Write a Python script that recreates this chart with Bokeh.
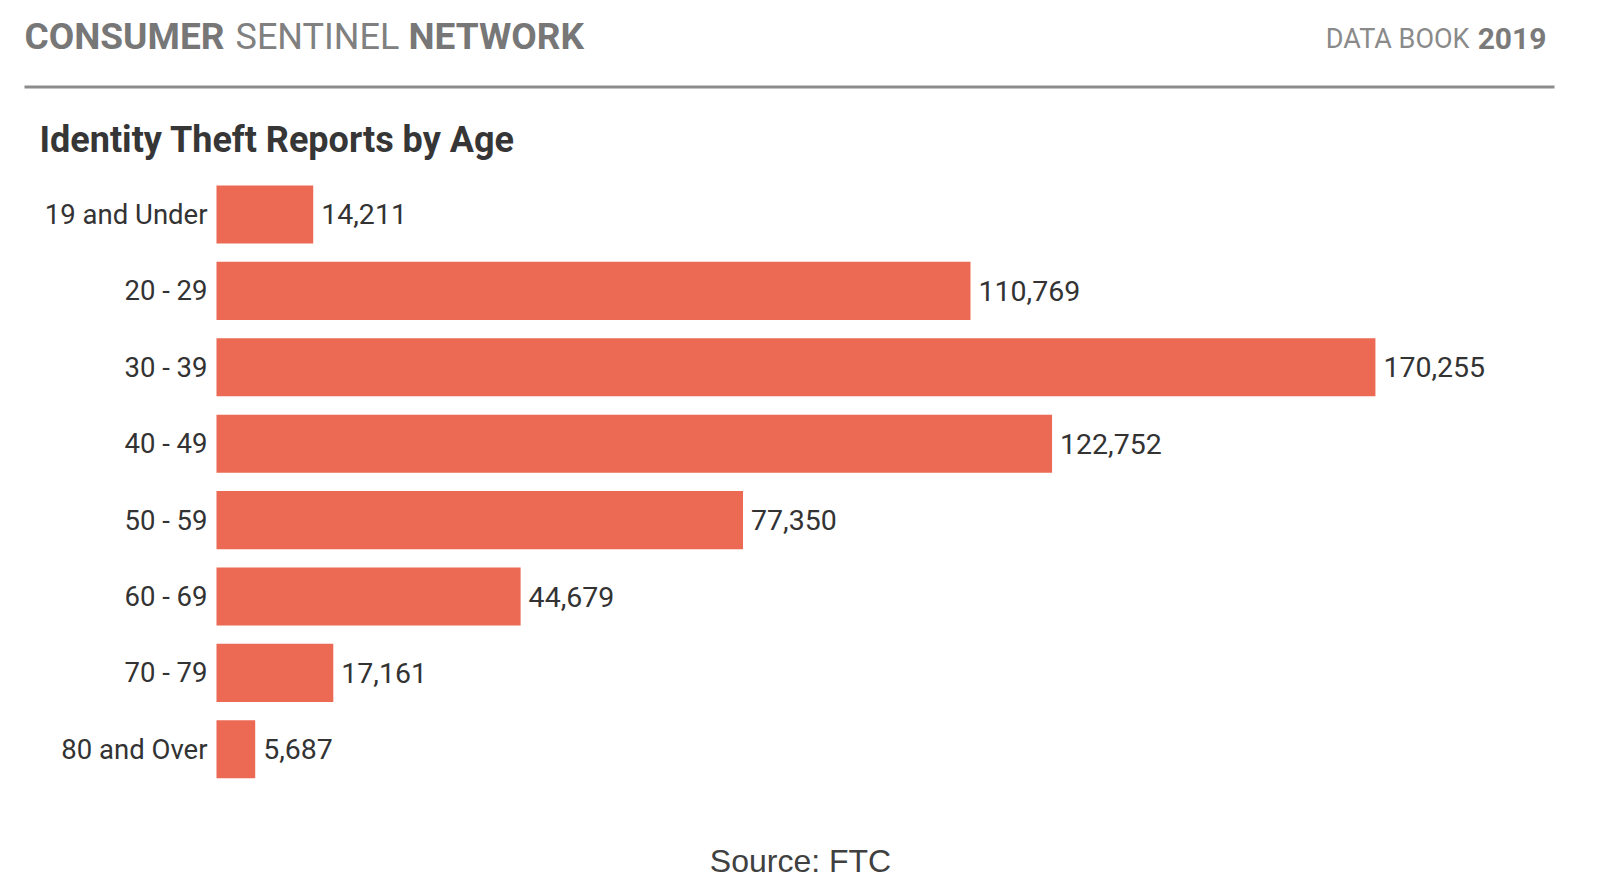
from bokeh.plotting import figure
from bokeh.models import ColumnDataSource, Label, BoxAnnotation, Range1d
from bokeh.core.properties import value
from bokeh.embed import file_html
from bokeh.resources import INLINE

# ---- data ----
age_groups = ["19 and Under", "20 - 29", "30 - 39", "40 - 49", "50 - 59", "60 - 69", "70 - 79", "80 and Over"]
reports = [14211, 110769, 170255, 122752, 77350, 44679, 17161, 5687]

value_labels = ["{:,}".format(v) for v in reports]
row = list(range(len(age_groups)))  # row index, top to bottom

BAR_COLOR = "#EC6A53"
TEXT_DARK = "#333333"
HEADER_GRAY = "#777777"

W, H = 1584, 878

src = ColumnDataSource(dict(row=row, cat=age_groups, val=reports, lbl=value_labels))

# frame covers the whole canvas; ranges chosen so the bars sit in the reference layout
p = figure(
    width=W, height=H,
    x_range=Range1d(-31730, 200970),
    y_range=Range1d(8.691, -2.801),
    output_backend="svg", toolbar_location=None,
    x_axis_location=None, y_axis_location=None,
    min_border=0,
)
p.outline_line_color = None
p.xgrid.visible = False
p.ygrid.visible = False
p.background_fill_color = "white"
p.border_fill_color = "white"

p.hbar(y="row", right="val", left=0, height=0.76, source=src,
       fill_color=BAR_COLOR, line_color=None)
# value labels
p.text(x="val", y="row", text="lbl", source=src, x_offset=8,
       text_baseline="middle", text_align="left",
       text_font=value("Roboto"), text_font_size="28.5px", text_color=TEXT_DARK)
# category labels
p.text(x=0, y="row", text="cat", source=src, x_offset=-9,
       text_baseline="middle", text_align="right",
       text_font=value("Roboto"), text_font_size="27.5px", text_color=TEXT_DARK)

def lab(x, y, text, size, color, style="normal", align="left", font="Roboto"):
    p.add_layout(Label(x=x, y=H - y, x_units="screen", y_units="screen", text=text,
                       text_font=font, text_font_size=size, text_color=color,
                       text_font_style=style, text_align=align, text_baseline="middle"))

# header
lab(24, 36, "CONSUMER", "37px", HEADER_GRAY, "bold")
lab(235, 36, "SENTINEL", "36px", "#808080")
lab(408, 36, "NETWORK", "37px", HEADER_GRAY, "bold")
lab(1469, 38, "DATA BOOK", "27px", "#8A8A8A", align="right")
lab(1546, 38, "2019", "30px", "#7A7A7A", "bold", align="right")

# rule
p.add_layout(BoxAnnotation(left=24, right=1554, bottom=H - 88, top=H - 85,
                           left_units="screen", right_units="screen",
                           bottom_units="screen", top_units="screen",
                           fill_color="#8C8C8C", fill_alpha=1.0, line_color=None))

# title
lab(39, 139, "Identity Theft Reports by Age", "36px", "#363636", "bold")

# source
lab(800, 860, "Source: FTC", "32px", "#404040", align="center", font="Liberation Sans")

open("out.html", "w").write(file_html(p, INLINE))
